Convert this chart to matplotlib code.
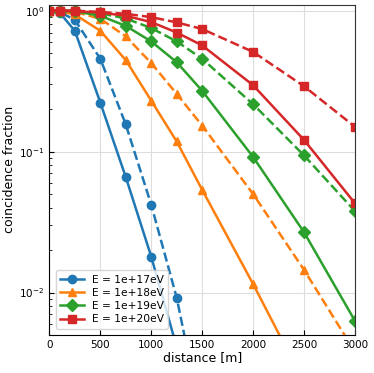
import numpy as np
import matplotlib
matplotlib.use('Agg')
import matplotlib.pyplot as plt

nan = np.nan

distance = [0, 100, 250, 500, 750, 1000, 1250, 1500, 2000, 2500, 3000]
energies = ['1e+17', '1e+18', '1e+19', '1e+20']
colors = ['tab:blue', 'tab:orange', 'tab:green', 'tab:red']
markers = ['o', '^', 'D', 's']

# solid curves
frac_e17 = [1.0, 0.97, 0.72, 0.223, 0.066, 0.018, 0.0041, 0.0009, nan, nan, nan]
frac_e18 = [1.0, 0.99, 0.94, 0.72, 0.446, 0.23, 0.118, 0.0536, 0.0115, 0.0023, nan]
frac_e19 = [1.0, 1.0, 0.99, 0.92, 0.78, 0.605, 0.431, 0.27, 0.0917, 0.0268, 0.0063]
frac_e20 = [1.0, 1.0, 0.99, 0.97, 0.92, 0.83, 0.70, 0.567, 0.296, 0.121, 0.043]

# dashed curves
frac_e17_d = [1.0, 0.98, 0.86, 0.456, 0.156, 0.042, 0.0092, 0.0012, nan, nan, nan]
frac_e18_d = [1.0, 1.0, 0.98, 0.877, 0.657, 0.425, 0.257, 0.153, 0.05, 0.0145, 0.0038]
frac_e19_d = [1.0, 1.0, 1.0, 0.96, 0.88, 0.753, 0.605, 0.456, 0.217, 0.094, 0.0378]
frac_e20_d = [1.0, 1.0, 1.0, 0.98, 0.95, 0.90, 0.826, 0.741, 0.51, 0.291, 0.15]

solid = [frac_e17, frac_e18, frac_e19, frac_e20]
dashed = [frac_e17_d, frac_e18_d, frac_e19_d, frac_e20_d]

fig = plt.figure(figsize=(3.74, 3.73), dpi=100)
ax = fig.add_axes([0.132, 0.102, 0.817, 0.885])

for i in range(4):
    ax.plot(distance, solid[i], color=colors[i], marker=markers[i], lw=1.8, ms=6,
            label=f'E = {energies[i]}eV')
    ax.plot(distance, dashed[i], color=colors[i], marker=markers[i], lw=1.8, ms=6,
            ls='--')

ax.set_yscale('log')
ax.set_xlim(0, 3000)
ax.set_ylim(0.005, 1.1)
ax.set_xticks([0, 500, 1000, 1500, 2000, 2500, 3000])
ax.grid(True, which='major', color='#dddddd', lw=0.8)
ax.tick_params(direction='in', labelsize=7.5, which='both')
for s in ['top', 'right']:
    ax.spines[s].set_color('#333333')

ax.set_xlabel('distance [m]', fontsize=9, labelpad=1)
ax.set_ylabel('coincidence fraction', fontsize=9, labelpad=2)
ax.legend(loc='lower left', fontsize=7.7, framealpha=0.8, handlelength=2.2,
          borderaxespad=0.6, labelspacing=0.3)

plt.savefig('out.png', dpi=100)
plt.close()
